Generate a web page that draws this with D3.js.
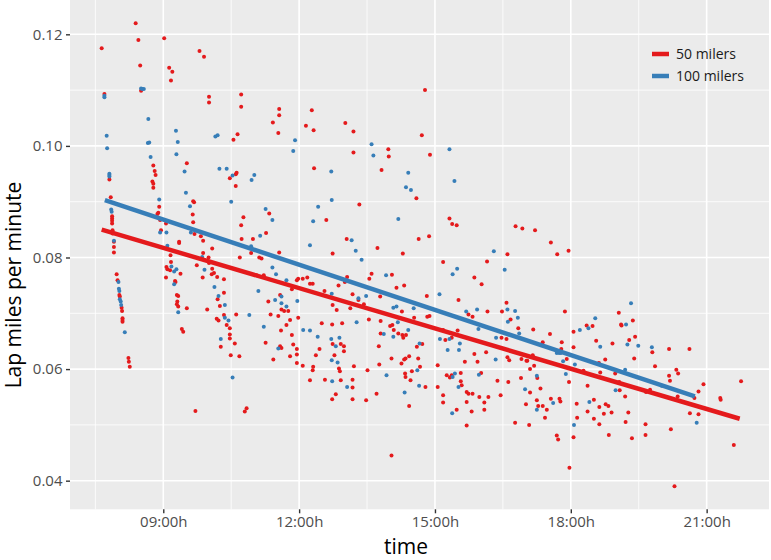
<!DOCTYPE html>
<html>
<head>
<meta charset="utf-8">
<script src="https://cdn.jsdelivr.net/npm/d3@7"></script>
<style>
  body { margin: 0; background: #fff; }
  svg { display: block; font-family: 'Open Sans', sans-serif; }
</style>
</head>
<body>
<svg id="chart" width="771" height="560"></svg>
<script>
// hours of day (decimal) and lap speed (miles per minute)
const laps50 = [
  [7.64,.1175],[7.70,.1093],[7.81,.0940],[7.84,.0908],[7.87,.0874],[7.87,.0870],[7.87,.0866],[7.87,.0861],
  [7.88,.0849],[7.88,.0843],[8.39,.1220],[8.45,.1190],[8.49,.1144],[8.51,.1099],[8.78,.0965],[8.81,.0955],
  [8.83,.0948],[8.76,.0936],[8.78,.0932],[8.78,.0925],[8.91,.0891],[8.89,.0880],[8.87,.0878],[8.93,.0867],
  [8.95,.0849],[9.06,.0861],[9.02,.1193],[9.13,.1140],[9.20,.1133],[9.17,.1117],[9.52,.0969],[9.66,.0901],
  [9.68,.0899],[9.65,.0877],[9.66,.0863],[9.69,.0842],[9.83,.0838],[9.88,.0830],[9.35,.0828],[9.80,.1170],
  [9.90,.1160],[10.01,.1088],[10.01,.1078],[10.47,.0942],[10.62,.0952],[10.60,.0949],[10.60,.0928],[10.72,.1092],
  [10.72,.1070],[10.64,.1021],[10.55,.1011],[10.77,.0872],[10.72,.0858],[10.73,.0833],[10.98,.0833],[11.27,.0844],
  [11.34,.0879],[11.42,.1042],[11.54,.1023],[11.56,.1055],[11.56,.1066],[10.08,.0816],
  [7.91,.0828],[7.91,.0819],[7.91,.0809],[7.97,.0770],[7.99,.0759],[8.03,.0733],[8.04,.0730],[8.08,.0710],
  [8.09,.0704],[8.10,.0691],[8.10,.0688],[8.10,.0685],[8.23,.0620],[8.24,.0613],[8.26,.0604],[9.16,.0804],
  [9.17,.0792],[9.07,.0783],[9.09,.0779],[9.06,.0764],[9.15,.0777],[9.38,.0771],[9.26,.0758],[9.27,.0756],
  [9.30,.0733],[9.33,.0731],[9.31,.0721],[9.30,.0716],[9.33,.0712],[9.52,.0709],[9.41,.0672],[9.44,.0667],
  [9.35,.0826],[9.71,.0525],[10.80,.0524],[10.84,.0530],[9.74,.0786],[9.88,.0808],[9.87,.0764],[10.00,.0800],
  [10.01,.0790],[10.08,.0780],[10.07,.0770],[10.12,.0772],[10.19,.0765],[10.20,.0725],[10.25,.0713],[10.34,.0761],
  [10.34,.0737],[10.18,.0690],[10.22,.0687],[10.34,.0697],[10.40,.0679],[10.47,.0673],[10.47,.0662],[10.47,.0655],
  [10.27,.0640],[10.49,.0625],[10.58,.0646],[10.68,.0623],[9.97,.0707],[10.61,.0698],[10.69,.0800],[10.94,.0808],
  [11.12,.0800],[11.17,.0798],[11.06,.0768],[11.22,.0768],[11.56,.0809],[11.84,.0743],[11.32,.0721],[11.58,.0733],
  [11.61,.0707],[11.67,.0704],[11.76,.0704],[11.37,.0698],[11.54,.0695],[11.80,.0688],[11.72,.0679],[11.60,.0669],
  [11.84,.0661],[11.26,.0647],[11.58,.0641],[11.61,.0638],[11.87,.0644],[11.80,.0623],[11.95,.0636],[11.95,.0626],
  [11.43,.0617],[11.95,.0611],[11.98,.0692],
  [12.28,.1064],[12.15,.1036],[12.32,.1028],[13.02,.1041],[13.20,.1026],[13.20,.0988],[13.97,.0994],[13.98,.0981],
  [13.82,.0957],[14.78,.1100],[14.71,.1019],[14.89,.0984],[12.33,.0960],[14.59,.0906],[13.33,.0895],[12.60,.0867],
  [15.32,.0870],[15.38,.0860],[15.48,.0858],[13.05,.0833],[12.74,.0807],[13.73,.0817],[14.29,.0807],[14.64,.0833],
  [14.87,.0838],[16.78,.0856],[16.93,.0852],[16.60,.0806],
  [11.95,.0759],[11.98,.0762],[12.08,.0762],[12.18,.0764],[12.24,.0753],[12.30,.0753],[12.50,.0682],[12.45,.0636],
  [12.37,.0625],[12.31,.0604],[12.30,.0598],[12.24,.0580],[12.08,.0606],[12.56,.0740],[12.74,.0715],[12.83,.0706],
  [12.87,.0750],[13.01,.0756],[13.06,.0765],[12.73,.0680],[12.95,.0682],[12.74,.0645],[12.92,.0645],[12.99,.0641],
  [12.99,.0632],[12.78,.0625],[12.88,.0601],[12.90,.0596],[12.57,.0581],[12.92,.0580],[13.18,.0581],[13.18,.0567],
  [12.81,.0555],[12.73,.0546],[13.18,.0546],[13.48,.0544],[13.21,.0605],[13.51,.0598],[13.71,.0556],[13.77,.0608],
  [13.76,.0641],[13.13,.0709],[13.18,.0734],[13.31,.0724],[13.43,.0716],[13.54,.0689],[13.55,.0762],[13.60,.0771],
  [13.79,.0730],[13.80,.0686],[13.80,.0664],[14.05,.0769],[14.15,.0746],[14.32,.0750],[14.01,.0677],[14.06,.0679],
  [14.09,.0670],[14.04,.0619],[14.27,.0703],[14.19,.0664],[14.28,.0661],[14.30,.0656],[14.36,.0661],[14.54,.0692],
  [14.26,.0610],[14.32,.0617],[14.35,.0619],[14.43,.0623],[14.34,.0592],[14.35,.0586],[14.46,.0580],[14.43,.0534],
  [14.60,.0640],[14.72,.0645],[14.63,.0619],[14.67,.0604],[14.49,.0596],[14.79,.0568],[14.82,.0731],[14.83,.0694],
  [14.88,.0695],[15.18,.0670],[15.23,.0652],[15.37,.0656],[15.50,.0669],[15.52,.0724],[15.74,.0698],[15.83,.0694],
  [16.16,.0703],[16.47,.0656],[16.58,.0654],[16.58,.0719],[16.48,.0703],[16.67,.0689],[16.84,.0673],[15.06,.0607],
  [15.26,.0589],[15.33,.0585],[15.37,.0589],[15.57,.0593],[15.57,.0578],[15.59,.0571],[15.06,.0568],[15.18,.0553],
  [15.18,.0540],[15.70,.0559],[15.74,.0556],[15.83,.0556],[15.98,.0550],[15.70,.0541],[15.81,.0524],[15.48,.0527],
  [15.70,.0499],[16.09,.0540],[16.18,.0550],[16.09,.0527],[16.02,.0593],[15.66,.0613],[15.87,.0627],[15.94,.0613],
  [16.13,.0630],[16.38,.0579],[16.45,.0553],[16.60,.0621],[16.64,.0616],[16.62,.0577],[16.91,.0618],[17.02,.0615],
  [16.90,.0584],[17.01,.0537],[16.77,.0504],[17.08,.0500],[14.04,.0445],[15.18,.0792],[15.87,.0764],[16.03,.0752],
  [16.15,.0793],
  [17.21,.0849],[17.56,.0827],[17.70,.0806],[17.95,.0812],[17.87,.0703],[17.17,.0671],[17.54,.0663],[17.38,.0648],
  [17.80,.0648],[17.16,.0625],[17.04,.0615],[17.19,.0606],[17.10,.0600],[17.26,.0584],[17.10,.0558],[17.33,.0565],
  [18.06,.0667],[18.35,.0678],[18.48,.0677],[18.06,.0639],[17.79,.0636],[18.56,.0651],[18.92,.0646],[18.76,.0617],
  [18.62,.0611],[18.65,.0594],[17.91,.0618],[17.96,.0577],[18.28,.0597],[18.37,.0570],[18.98,.0592],[19.07,.0577],
  [19.08,.0562],[19.20,.0551],[19.06,.0701],[19.11,.0680],[19.12,.0678],[19.37,.0687],[19.42,.0658],[19.29,.0652],
  [19.40,.0619],[19.80,.0630],[19.86,.0605],[20.17,.0636],[20.33,.0599],[20.37,.0592],[20.17,.0588],[20.19,.0579],
  [20.62,.0636],[19.66,.0559],[19.75,.0563],[20.36,.0551],[20.73,.0548],[20.82,.0560],[20.93,.0573],[21.30,.0548],
  [21.31,.0545],[21.76,.0578],[20.63,.0521],[20.82,.0519],[20.21,.0492],[19.65,.0501],[19.65,.0482],[21.60,.0464],
  [19.27,.0522],[19.21,.0505],[19.35,.0476],[18.84,.0482],[18.63,.0501],[18.51,.0511],[18.37,.0524],[18.14,.0513],
  [18.06,.0478],[17.97,.0423],[17.69,.0481],[17.72,.0474],[18.13,.0538],[18.51,.0545],[18.63,.0532],[18.73,.0520],
  [18.77,.0537],[18.83,.0534],[18.90,.0522],[17.56,.0547],[17.75,.0547],[17.77,.0542],[17.25,.0544],[17.28,.0534],
  [17.38,.0534],[17.47,.0527],[17.43,.0513],[20.29,.0390]
];

const laps100 = [
  [7.70,.1090],[7.70,.1087],[7.75,.1018],[7.76,.0996],[7.81,.0950],[7.81,.0948],[7.81,.0945],[7.85,.0886],
  [7.86,.0882],[8.51,.1103],[8.54,.1102],[8.57,.1102],[8.67,.1048],[8.66,.1005],[8.69,.1006],[8.72,.0980],
  [8.91,.0904],[8.93,.0845],[9.07,.0845],[9.28,.1027],[9.32,.1007],[9.29,.0985],[9.47,.0954],[9.50,.0916],
  [9.59,.0892],[9.61,.0845],[10.15,.1017],[10.20,.1019],[10.24,.0959],[10.40,.0959],[10.50,.0900],[10.53,.0947],
  [10.95,.0939],[11.01,.0948],[11.14,.0839],[11.26,.0887],[11.41,.0867],[11.87,.0991],[11.91,.1010],
  [7.91,.0830],[8.01,.0756],[8.02,.0744],[8.03,.0740],[8.04,.0725],[8.06,.0721],[8.07,.0715],[8.15,.0666],
  [9.09,.0821],[9.18,.0784],[9.24,.0775],[9.29,.0779],[9.24,.0752],[9.33,.0702],[10.53,.0585],[9.86,.0801],
  [9.91,.0778],[10.13,.0747],[10.22,.0731],[10.36,.0715],[10.36,.0692],[10.44,.0687],[10.27,.0654],[10.90,.0697],
  [10.94,.0820],[11.10,.0740],[11.41,.0782],[11.49,.0770],[11.72,.0759],[11.47,.0724],[11.61,.0730],[11.61,.0718],
  [11.72,.0712],[11.22,.0676],[11.54,.0637],[11.96,.0722],
  [12.71,.0954],[13.60,.1003],[13.64,.0983],[15.32,.0994],[15.43,.0937],[14.41,.0952],[14.36,.0926],[14.47,.0921],
  [12.42,.0891],[12.72,.0903],[12.31,.0865],[14.19,.0869],[12.24,.0822],[13.16,.0831],[13.25,.0812],[16.30,.0811],
  [13.38,.0796],
  [12.09,.0670],[12.24,.0669],[12.41,.0658],[12.72,.0735],[12.71,.0654],[12.89,.0656],[12.81,.0641],[12.72,.0616],
  [12.85,.0612],[12.73,.0578],[13.06,.0568],[13.93,.0589],[13.31,.0727],[13.48,.0731],[13.27,.0684],[13.87,.0663],
  [13.92,.0768],[14.08,.0658],[14.15,.0712],[14.08,.0710],[14.18,.0684],[14.41,.0670],[14.53,.0709],[14.33,.0558],
  [14.66,.0646],[14.61,.0598],[14.65,.0570],[15.10,.0734],[15.11,.0654],[15.32,.0654],[15.28,.0634],[15.55,.0646],
  [15.53,.0634],[15.69,.0703],[15.93,.0707],[15.96,.0672],[16.35,.0656],[16.60,.0707],[16.77,.0704],[16.61,.0685],
  [16.83,.0692],[16.86,.0664],[15.44,.0592],[15.39,.0586],[15.52,.0568],[15.38,.0521],[15.97,.0590],[16.34,.0617],
  [16.99,.0564],[15.39,.0770],[15.49,.0780],[16.54,.0778],
  [18.20,.0670],[18.39,.0673],[18.54,.0691],[17.69,.0629],[17.74,.0629],[17.78,.0629],[18.65,.0640],[18.09,.0608],
  [17.83,.0614],[17.89,.0591],[19.20,.0599],[18.99,.0562],[19.22,.0680],[19.33,.0718],[19.25,.0644],[19.49,.0642],
  [19.79,.0639],[20.01,.0570],[20.78,.0504],[18.07,.0500],[18.41,.0541],[17.61,.0539],[17.25,.0527],[17.25,.0588]
];

// fitted linear trend, start and end of each series
const fit50 = [[7.64, .0850], [21.73, .0511]];
const fit100 = [[7.71, .0903], [20.74, .0551]];

const hourTicks = [9, 12, 15, 18, 21];
const hourMinor = [7.5, 10.5, 13.5, 16.5, 19.5];
const speedTicks = [.04, .06, .08, .10, .12];
const speedMinor = [.05, .07, .09, .11];
const seriesNames = ['50 milers', '100 milers'];
const seriesColors = ['#e41a1c', '#377eb8'];

const panel = { left: 70, right: 769, top: 0, bottom: 509.3 };

const svg = d3.select('#chart');

const x = d3.scaleLinear().domain([6.94, 22.377]).range([panel.left, panel.right]);
const y = d3.scaleLinear().domain([0.03487, 0.12615]).range([panel.bottom, panel.top]);

svg.append('rect')
  .attr('x', panel.left).attr('y', panel.top)
  .attr('width', panel.right - panel.left).attr('height', panel.bottom - panel.top)
  .attr('fill', '#ebebeb');

// grid: minor first, then major on top
const grid = svg.append('g').attr('stroke', '#fff');
grid.selectAll('line.xmin').data(hourMinor).join('line')
  .attr('x1', d => x(d)).attr('x2', d => x(d))
  .attr('y1', panel.top).attr('y2', panel.bottom).attr('stroke-width', 0.8);
grid.selectAll('line.ymin').data(speedMinor).join('line')
  .attr('y1', d => y(d)).attr('y2', d => y(d))
  .attr('x1', panel.left).attr('x2', panel.right).attr('stroke-width', 0.8);
grid.selectAll('line.xmaj').data(hourTicks).join('line')
  .attr('x1', d => x(d)).attr('x2', d => x(d))
  .attr('y1', panel.top).attr('y2', panel.bottom).attr('stroke-width', 1.6);
grid.selectAll('line.ymaj').data(speedTicks).join('line')
  .attr('y1', d => y(d)).attr('y2', d => y(d))
  .attr('x1', panel.left).attr('x2', panel.right).attr('stroke-width', 1.6);

// points
const pts = svg.append('g');
pts.selectAll('circle.s50').data(laps50).join('circle')
  .attr('cx', d => x(d[0])).attr('cy', d => y(d[1])).attr('r', 2)
  .attr('fill', seriesColors[0]);
pts.selectAll('circle.s100').data(laps100).join('circle')
  .attr('cx', d => x(d[0])).attr('cy', d => y(d[1])).attr('r', 2)
  .attr('fill', seriesColors[1]);

// trend lines
const line = d3.line().x(d => x(d[0])).y(d => y(d[1]));
[fit50, fit100].forEach((f, i) => {
  svg.append('path').datum(f).attr('d', line)
    .attr('fill', 'none').attr('stroke', seriesColors[i]).attr('stroke-width', 4.5);
});

// axes
const fmtHour = h => d3.format('02d')(h) + ':00h';
const xAxis = svg.append('g')
  .attr('transform', `translate(0,${panel.bottom})`)
  .call(d3.axisBottom(x).tickValues(hourTicks).tickFormat(fmtHour).tickSize(4).tickPadding(3.5));
const yAxis = svg.append('g')
  .attr('transform', `translate(${panel.left},0)`)
  .call(d3.axisLeft(y).tickValues(speedTicks).tickFormat(d3.format('.2f')).tickSize(4).tickPadding(3.5));
[xAxis, yAxis].forEach(a => {
  a.select('.domain').remove();
  a.selectAll('.tick line').attr('stroke', '#333').attr('stroke-width', 1.4);
  a.selectAll('.tick text').attr('fill', '#4d4d4d')
    .style('font-size', '15px').style('font-family', "'Open Sans', sans-serif");
});

// titles
svg.append('text')
  .attr('x', 406).attr('y', 553.8)
  .attr('text-anchor', 'middle').attr('font-size', 21).attr('fill', '#000')
  .text('time');
svg.append('text')
  .attr('transform', 'translate(21,285) rotate(-90)')
  .attr('text-anchor', 'middle').attr('font-size', 21).attr('fill', '#000')
  .text('Lap miles per minute');

// legend
const legend = svg.append('g').attr('transform', 'translate(652,54)');
seriesNames.forEach((name, i) => {
  const row = legend.append('g').attr('transform', `translate(0,${i * 22})`);
  row.append('line').attr('x1', 0).attr('x2', 17).attr('y1', 0).attr('y2', 0)
    .attr('stroke', seriesColors[i]).attr('stroke-width', 4.5);
  row.append('text').attr('x', 24).attr('y', 5)
    .attr('font-size', 14).attr('fill', '#1a1a1a').text(name);
});
</script>
</body>
</html>
